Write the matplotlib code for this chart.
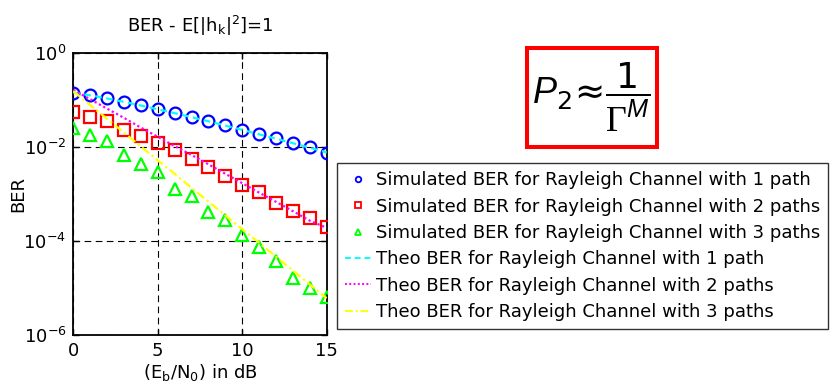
import matplotlib
matplotlib.use("Agg")
import matplotlib.pyplot as plt
from matplotlib.lines import Line2D
from matplotlib.patches import Rectangle
from matplotlib.ticker import FixedLocator, FixedFormatter, NullLocator

plt.rcParams['font.family'] = ['DejaVu Sans']
plt.rcParams['mathtext.fontset'] = 'dejavusans'
plt.rcParams['mathtext.default'] = 'regular'
# custom math fonts used only by the formula box
plt.rcParams['mathtext.rm'] = 'Liberation Sans'
plt.rcParams['mathtext.it'] = 'Liberation Sans:italic'
plt.rcParams['mathtext.cal'] = 'Liberation Serif'

# ---- data ----
ebn0_db = [0, 1, 2, 3, 4, 5, 6, 7, 8, 9, 10, 11, 12, 13, 14, 15]

sim_1path = [0.145, 0.127, 0.110, 0.092, 0.078, 0.064, 0.053, 0.044,
             0.036, 0.029, 0.023, 0.019, 0.0153, 0.0121, 0.0099, 0.0076]
sim_2path = [0.055, 0.043, 0.0366, 0.0232, 0.0172, 0.0124, 0.0087, 0.0057,
             0.0038, 0.0024, 0.00158, 0.00112, 0.00065, 0.00043, 0.00031, 0.0002]
sim_3path = [0.026, 0.018, 0.0135, 0.0067, 0.0044, 0.0030, 0.0013, 0.00092,
             0.00041, 0.00028, 0.000134, 0.000075, 0.000037, 0.000016, 0.0000097, 0.0000065]

theo_1path = [0.146, 0.127, 0.109, 0.092, 0.077, 0.064, 0.053, 0.0435,
              0.0355, 0.0288, 0.0233, 0.0187, 0.0151, 0.0121, 0.0097, 0.0077]
theo_2path = [0.166, 0.105, 0.066, 0.042, 0.026, 0.0166, 0.0105, 0.0068,
              0.0043, 0.0027, 0.0017, 0.00107, 0.00068, 0.00043, 0.00027, 0.00019]
theo_3path = [0.155, 0.079, 0.040, 0.0204, 0.0103, 0.0052, 0.0027, 0.00135,
              0.00069, 0.00035, 0.000178, 0.000091, 0.000046, 0.0000234, 0.0000118, 0.000006]

legend_labels = [
    'Simulated BER for Rayleigh Channel with 1 path',
    'Simulated BER for Rayleigh Channel with 2 paths',
    'Simulated BER for Rayleigh Channel with 3 paths',
    'Theo BER for Rayleigh Channel with 1 path',
    'Theo BER for Rayleigh Channel with 2 paths',
    'Theo BER for Rayleigh Channel with 3 paths',
]
x_ticks = [0, 5, 10, 15]
y_ticks = [1e0, 1e-2, 1e-4, 1e-6]
y_tick_labels = ['$10^{0}$', '$10^{-2}$', '$10^{-4}$', '$10^{-6}$']

W, H = 830, 391
fig = plt.figure(figsize=(W / 100, H / 100), dpi=100)


def fx(x):
    return x / W


def fy(y):
    return 1 - y / H


ax = fig.add_axes([fx(73.3), fy(334.7), fx(326.7) - fx(73.3), fy(53.3) - fy(334.7)])
ax.set_yscale('log')

FS = 13
mk = dict(linestyle='none', markerfacecolor='none', markeredgewidth=1.6)
ax.plot(ebn0_db, sim_1path, marker='o', markersize=8.5, markeredgecolor=(0, 0, 1), **mk, zorder=3)
ax.plot(ebn0_db, sim_2path, marker='s', markersize=8.0, markeredgecolor=(1, 0, 0), **mk, zorder=3)
ax.plot(ebn0_db, sim_3path, marker='^', markersize=9.0, markeredgecolor=(0, 1, 0), **mk, zorder=3)
ax.plot(ebn0_db, theo_1path, color=(0, 1, 1), lw=1.6, linestyle=(0, (3, 2)), zorder=4)
ax.plot(ebn0_db, theo_2path, color=(1, 0, 1), lw=1.6, linestyle=(0, (1, 1.2)), zorder=4)
ax.plot(ebn0_db, theo_3path, color=(1, 1, 0), lw=1.6, linestyle=(0, (4, 1.5, 1, 1.5)), zorder=4)

ax.set_xlim(0, 15)
ax.set_ylim(1e-6, 1e0)
ax.xaxis.set_major_locator(FixedLocator(x_ticks))
ax.yaxis.set_major_locator(FixedLocator(y_ticks))
ax.yaxis.set_major_formatter(FixedFormatter(y_tick_labels))
ax.yaxis.set_minor_locator(NullLocator())
ax.xaxis.set_minor_locator(NullLocator())
ax.tick_params(direction='in', length=4, width=1, labelsize=FS, pad=5,
               top=True, right=True, colors='k')
ax.grid(True, which='major', color='k', linestyle=(0, (6, 4)), linewidth=0.8)
for sp in ax.spines.values():
    sp.set_linewidth(1.3)
    sp.set_color('k')

ax.set_title('BER - E[|h$_k$|$^2$]=1', fontsize=FS, pad=15)
ax.set_xlabel('(E$_b$/N$_0$) in dB', fontsize=FS, labelpad=2)
ax.set_ylabel('BER', fontsize=FS, labelpad=-3)

# legend with small markers
hs = [
    Line2D([], [], marker='o', ms=4, mfc='none', mec=(0, 0, 1), mew=1.3, ls='none'),
    Line2D([], [], marker='s', ms=3.8, mfc='none', mec=(1, 0, 0), mew=1.3, ls='none'),
    Line2D([], [], marker='^', ms=4.3, mfc='none', mec=(0, 1, 0), mew=1.3, ls='none'),
    Line2D([], [], color=(0, 1, 1), lw=1.4, ls=(0, (3, 2))),
    Line2D([], [], color=(1, 0, 1), lw=1.4, ls=(0, (1, 1.2))),
    Line2D([], [], color=(1, 1, 0), lw=1.4, ls=(0, (4, 1.5, 1, 1.5))),
]
leg = fig.legend(hs, legend_labels, loc='upper left',
                 bbox_to_anchor=(fx(337.3), fy(163.3)), bbox_transform=fig.transFigure,
                 fontsize=FS, frameon=True, fancybox=False, borderaxespad=0,
                 borderpad=0.45, labelspacing=0.46, handlelength=1.43,
                 handletextpad=0.25)
leg.get_frame().set_edgecolor('k')
leg.get_frame().set_linewidth(1.0)

# formula box
fig.patches.append(Rectangle((fx(527), fy(147)), fx(656.5) - fx(527), fy(47.5) - fy(147),
                             transform=fig.transFigure, fill=False, edgecolor=(1, 0, 0),
                             linewidth=2.9))
fig.text(fx(591), fy(97.5),
         r'$\mathit{P}_{2}\!\approx\!\dfrac{1}{\mathcal{\Gamma}^{\mathit{M}}}$',
         fontsize=26, math_fontfamily='custom', ha='center', va='center')

fig.savefig('out.png', dpi=100)
